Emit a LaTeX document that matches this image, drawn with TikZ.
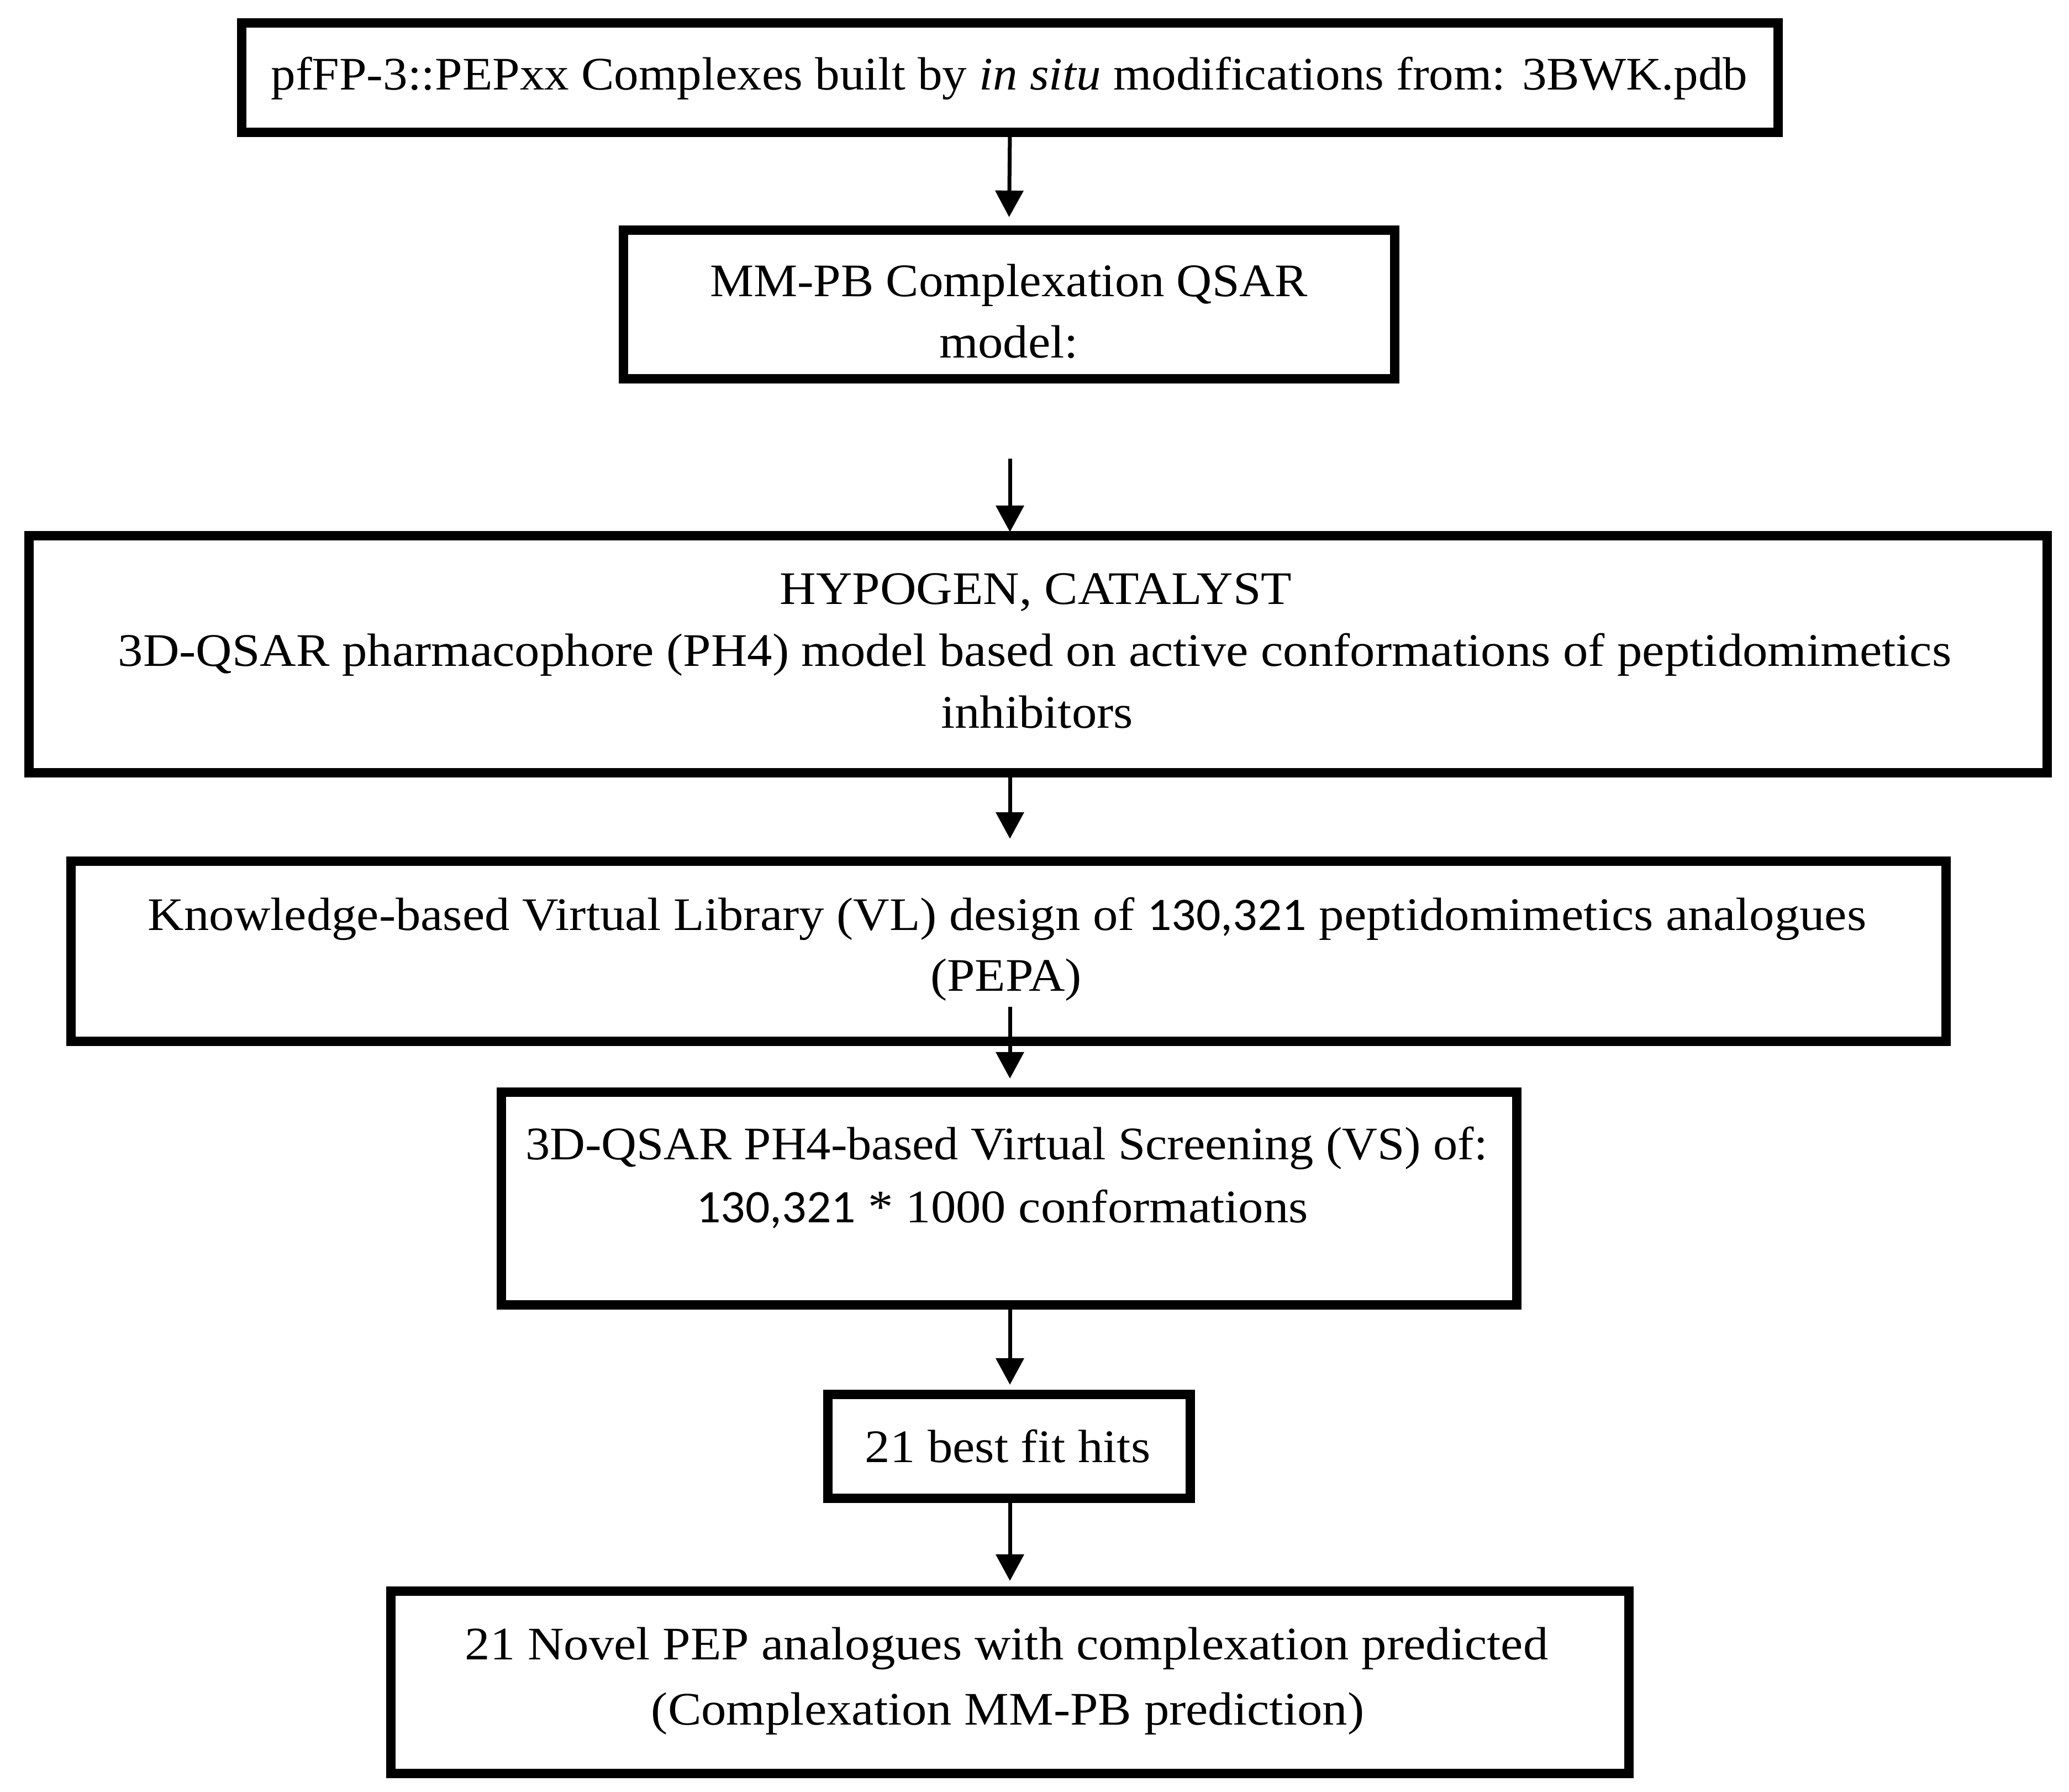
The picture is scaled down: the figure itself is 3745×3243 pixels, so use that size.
\documentclass[tikz,border=0pt]{standalone}
\usepackage{fontspec}
\usepackage{graphicx}
\newfontfamily\calib[FakeStretch=1.04]{Carlito}
\newfontfamily\libser[FakeStretch=1.075]{Liberation Serif}
\usetikzlibrary{arrows.meta}
\newcommand\palfont{\libser\fontsize{24}{30}\selectfont}
\newcommand\hsq[2]{\scalebox{#1}[1]{#2}}
\tikzset{
 boxst/.style={draw=black, line width=0.17cm, inner sep=0pt, outer sep=0pt},
 txt/.style={anchor=base, inner sep=0pt, outer sep=0pt, font=\palfont},
 arr/.style={line width=0.07cm, -{Triangle[length=0.48cm,width=0.5cm]}}
}
\begin{document}
\begin{tikzpicture}[x=0.01cm,y=-0.01cm]
\fill[white] (0,0) rectangle (3745,3243);
\useasboundingbox (0,0) rectangle (3745,3243);
% boxes
\node[boxst, minimum width=27.8cm, minimum height=1.97cm] (b1) at (1828,140.5) {};
\node[boxst, minimum width=13.95cm, minimum height=2.68cm] (b2) at (1826.5,551) {};
\node[boxst, minimum width=36.5cm, minimum height=4.28cm] (b3) at (1879,1184) {};
\node[boxst, minimum width=33.92cm, minimum height=3.25cm] (b4) at (1825,1721.5) {};
\node[boxst, minimum width=18.37cm, minimum height=3.84cm] (b5) at (1826.5,2169) {};
\node[boxst, minimum width=6.55cm, minimum height=1.87cm] (b6) at (1826.5,2617.5) {};
\node[boxst, minimum width=22.4cm, minimum height=3.29cm] (b7) at (1828,3044.5) {};
% texts
\node[txt] (t1) at (1827,163) {\hsq{0.982}{pfFP-3::PEPxx Complexes built by \textit{in situ} modifications from: 3BWK.pdb}};
\node[txt] (t2a) at (1826,537) {\hsq{0.98}{MM-PB Complexation QSAR}};
\node[txt] (t2b) at (1826,648) {model:};
\node[txt] (t3a) at (1875,1093) {HYPOGEN, CATALYST};
\node[txt] (t3b) at (1873,1205) {3D-QSAR pharmacophore (PH4) model based on active conformations of peptidomimetics};
\node[txt] (t3c) at (1877,1317) {inhibitors};
\node[txt] (t4a) at (1823,1683) {Knowledge-based Virtual Library (VL) design of {\calib 130,321} peptidomimetics analogues};
\node[txt] (t4b) at (1821,1793) {(PEPA)};
\node[txt] (t5a) at (1822,2098) {\hsq{0.975}{3D-QSAR PH4-based Virtual Screening (VS) of:}};
\node[txt] (t5b) at (1814,2212) {{\calib 130,321} * 1000 conformations};
\node[txt] (t6) at (1824,2646) {21 best fit hits};
\node[txt] (t7a) at (1822,3003) {21 Novel PEP analogues with complexation predicted};
\node[txt] (t7b) at (1824,3121) {(Complexation MM-PB prediction)};
% arrows
\coordinate (a2s) at (1828,830);
\draw[arr] (b1.south) -- ([yshift=0.24cm]b2.north);
\draw[arr] (a2s) -- ([yshift=0.07cm]a2s |- b3.north);
\draw[arr] ([yshift=0.08cm]b3.south -| b1.south) -- ([yshift=0.41cm]b4.north -| b1.south);
\draw[arr] ([yshift=0.62cm]b4.south -| b1.south) -- ([yshift=0.25cm]b5.north -| b1.south);
\draw[arr] (b5.south -| b1.south) -- ([yshift=0.18cm]b6.north -| b1.south);
\draw[arr] (b6.south -| b1.south) -- ([yshift=0.19cm]b7.north);
\end{tikzpicture}
\end{document}
